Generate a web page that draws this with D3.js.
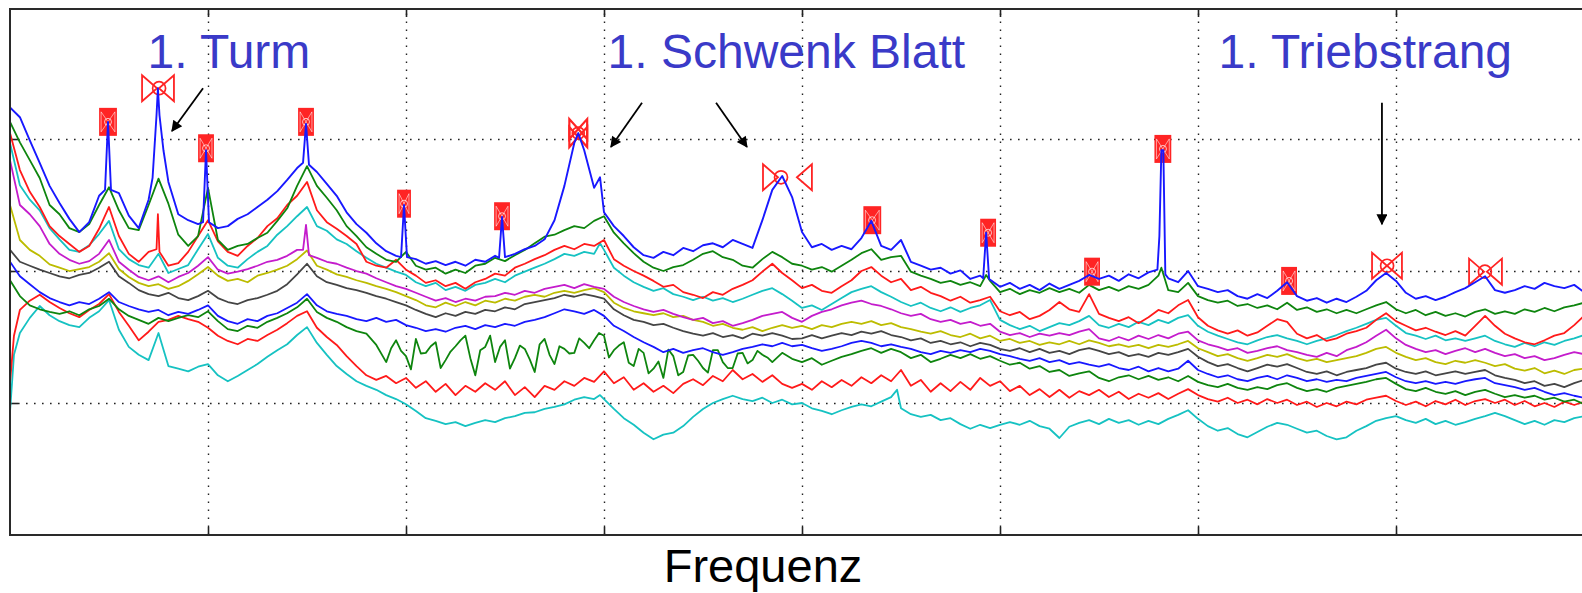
<!DOCTYPE html>
<html><head><meta charset="utf-8">
<script src="https://cdn.jsdelivr.net/npm/d3@7"></script>
<style>body{margin:0;background:#fff}svg{display:block}</style>
</head><body>
<svg id="chart" width="1582" height="593"></svg>
<script>
// ---------- DATA ----------
// frequency axis (arbitrary units, 8 grid intervals), 160 samples per spectrum
const freq = d3.range(160).map(i => i / 20);
const xTicks = [1, 2, 3, 4, 5, 6, 7];
const yTicks = [-80, -60, -40];

// spectra, level in dB
const blue1 = [-35.2,-36.7,-40.2,-43.6,-47.1,-49.7,-52.1,-54.1,-52.6,-48.6,
-47.7,-48.2,-51.6,-53.5,-49.2,-45.0,-46.5,-51.4,-52.3,-52.9,
-52.0,-53.5,-53.2,-52.1,-51.4,-50.3,-49.2,-47.9,-46.2,-44.4,
-43.0,-45.0,-46.8,-48.6,-51.1,-52.9,-54.2,-55.8,-57.0,-57.7,
-57.8,-58.2,-58.9,-58.5,-59.1,-58.6,-59.2,-58.3,-58.6,-57.7,
-57.9,-57.4,-56.7,-56.2,-55.2,-52.3,-47.1,-40.6,-41.7,-47.4,
-51.1,-53.2,-54.7,-56.4,-57.6,-58.0,-57.1,-57.6,-56.5,-57.0,
-56.1,-55.8,-56.4,-55.3,-55.9,-56.5,-52.3,-47.7,-45.6,-48.8,
-54.1,-56.4,-55.9,-56.8,-56.2,-56.7,-55.0,-52.4,-56.2,-56.8,
-55.3,-58.6,-59.2,-59.8,-59.5,-60.4,-59.9,-61.2,-60.7,-61.4,
-62.4,-61.8,-62.7,-62.1,-62.9,-61.9,-62.7,-62.1,-61.5,-60.6,
-61.2,-60.7,-61.5,-60.5,-61.1,-60.2,-59.8,-61.1,-61.7,-60.0,
-62.3,-62.7,-63.2,-62.9,-63.8,-64.2,-63.5,-64.1,-63.0,-61.7,
-63.8,-64.5,-64.1,-64.8,-64.2,-64.7,-63.9,-63.0,-61.4,-60.3,
-61.5,-63.3,-64.2,-63.8,-64.4,-63.9,-63.2,-62.6,-61.7,-60.8,
-62.9,-63.3,-62.9,-62.3,-62.7,-61.8,-62.3,-62.6,-62.1,-63.2];
const blue1Peaks = [[0.48,-47.7],[0.495,-37.4],[0.51,-47.7],
[0.72,-45.9],[0.74,-36.4],[0.747,-32.3],[0.755,-36.4],[0.775,-41.7],
[0.975,-52.6],[0.99,-41.7],[1.005,-52.6],
[1.48,-43.6],[1.495,-37.7],[1.51,-43.9],
[1.975,-57.9],[1.99,-50.0],[2.005,-57.9],
[2.47,-58.0],[2.485,-51.8],[2.5,-57.9],
[2.87,-39.1],[2.98,-45.8],
[4.915,-61.1],[4.93,-54.2],[4.945,-61.2],
[5.795,-59.8],[5.805,-54.7],[5.815,-41.7],[5.825,-41.7],[5.835,-60.5]];

const green1 = [-37.4,-40.5,-43.2,-45.9,-50.0,-51.4,-53.5,-54.1,-52.9,-50.0,
-47.3,-50.8,-53.5,-53.8,-50.0,-46.0,-49.8,-54.5,-56.2,-54.7,
-47.4,-55.3,-56.8,-56.2,-55.9,-55.0,-54.2,-52.4,-50.5,-47.1,
-44.1,-47.1,-48.9,-50.8,-53.2,-54.7,-56.4,-57.4,-58.3,-58.6,
-57.1,-59.2,-59.8,-59.5,-60.4,-59.8,-60.3,-59.2,-58.9,-58.0,
-58.5,-57.6,-56.8,-55.8,-54.8,-54.5,-53.8,-53.2,-53.5,-52.4,
-51.7,-54.2,-55.8,-57.3,-58.6,-59.5,-60.0,-59.4,-59.1,-58.3,
-57.4,-57.0,-57.9,-58.3,-59.2,-59.5,-58.2,-57.1,-57.9,-58.9,
-59.2,-59.8,-59.4,-60.1,-59.2,-58.3,-57.3,-56.7,-58.3,-57.9,
-57.7,-60.1,-60.7,-61.2,-61.8,-61.5,-62.1,-61.7,-62.3,-61.5,
-63.2,-62.7,-63.5,-62.9,-63.3,-62.6,-63.2,-62.7,-63.3,-62.1,
-62.9,-62.4,-63.0,-62.3,-62.7,-62.1,-60.7,-62.9,-63.2,-61.8,
-63.8,-64.4,-64.8,-64.5,-65.3,-65.0,-65.6,-65.2,-65.8,-64.8,
-65.9,-65.5,-66.2,-65.8,-66.4,-65.9,-66.4,-65.8,-65.2,-64.7,
-65.8,-66.4,-65.9,-66.7,-66.2,-66.8,-66.4,-66.9,-66.2,-65.8,
-66.5,-66.1,-66.5,-65.8,-66.2,-65.6,-66.1,-65.5,-65.2,-64.8];
const green1Peaks = [[4.93,-60.6],[5.815,-59.5]];

const red1 = [-39.1,-44.7,-48.0,-50.3,-53.2,-54.7,-55.9,-57.1,-56.2,-53.6,
-50.3,-54.7,-57.4,-58.6,-57.1,-52.6,-59.2,-58.8,-57.1,-54.7,
-52.3,-55.5,-57.1,-57.7,-56.2,-55.0,-53.2,-52.0,-50.0,-48.6,
-46.5,-50.8,-52.6,-53.6,-54.7,-55.9,-58.6,-59.2,-59.5,-58.3,
-59.8,-60.7,-61.8,-61.4,-62.3,-61.8,-62.7,-61.7,-61.2,-60.4,
-60.7,-59.5,-58.9,-58.2,-57.6,-56.8,-56.2,-56.7,-55.9,-56.2,
-55.3,-58.2,-59.2,-60.0,-60.7,-61.5,-62.4,-62.1,-63.2,-63.6,
-64.1,-63.2,-63.6,-62.7,-62.1,-61.4,-60.1,-58.9,-60.3,-61.4,
-62.6,-62.1,-63.0,-63.3,-62.3,-61.4,-60.0,-59.4,-60.7,-61.7,
-61.2,-62.9,-62.4,-63.3,-63.8,-64.5,-63.9,-64.8,-64.4,-63.9,
-66.1,-66.7,-66.2,-67.3,-66.8,-65.9,-64.7,-65.8,-66.2,-63.5,
-66.5,-67.1,-67.6,-67.0,-67.9,-67.0,-65.9,-66.4,-65.2,-64.4,
-67.0,-68.3,-69.0,-69.5,-69.0,-69.8,-69.3,-68.3,-67.3,-67.7,
-69.5,-70.2,-69.7,-70.6,-70.2,-69.5,-69.1,-68.6,-67.4,-66.4,
-67.6,-68.3,-69.0,-68.6,-69.2,-69.7,-69.1,-69.8,-68.3,-66.8,
-68.3,-69.5,-70.2,-70.8,-71.1,-70.5,-69.8,-69.4,-68.2,-66.8];
const red1Peaks = [[0.74,-56.7],[0.747,-51.4],[0.755,-57.1]];

const cyan1 = [-40.6,-47.0,-49.2,-50.8,-53.5,-55.2,-56.8,-57.1,-56.1,-54.4,
-52.4,-56.7,-58.2,-59.1,-59.5,-57.4,-60.3,-59.7,-59.1,-56.7,
-54.4,-58.0,-59.2,-59.5,-58.2,-57.1,-56.2,-54.5,-53.2,-51.7,
-50.3,-53.2,-53.9,-55.2,-55.9,-57.0,-58.0,-58.9,-59.5,-60.1,
-60.6,-61.7,-62.3,-61.8,-62.9,-62.4,-63.0,-62.1,-61.8,-61.2,
-61.7,-60.7,-60.1,-59.5,-58.9,-58.2,-57.4,-57.7,-57.1,-57.4,
-56.8,-59.5,-60.7,-61.7,-62.4,-63.0,-62.6,-63.5,-63.9,-64.4,
-63.9,-64.5,-64.1,-64.7,-64.2,-63.6,-63.0,-62.6,-63.5,-64.5,
-65.6,-65.2,-65.9,-65.0,-64.1,-63.2,-62.7,-62.3,-63.2,-63.9,
-64.7,-65.3,-64.8,-65.6,-66.1,-65.5,-66.2,-65.6,-65.2,-64.4,
-67.4,-68.2,-68.8,-68.3,-69.1,-68.5,-67.9,-68.2,-67.6,-66.8,
-68.2,-68.6,-68.0,-68.5,-67.7,-68.2,-67.4,-67.9,-67.1,-66.7,
-68.3,-69.2,-69.8,-70.3,-70.8,-71.1,-70.5,-70.0,-69.7,-70.2,
-70.6,-71.1,-70.6,-70.2,-69.7,-69.1,-68.6,-68.0,-67.4,-67.1,
-68.3,-69.4,-69.8,-70.3,-69.8,-70.5,-70.2,-70.6,-70.2,-69.8,
-70.6,-71.1,-71.5,-70.9,-71.4,-70.8,-71.2,-70.6,-70.2,-69.7];
const cyan1Peaks = [[2.98,-55.8]];

const magenta1 = [-43.2,-50.0,-51.4,-53.2,-55.9,-57.4,-58.3,-58.9,-58.5,-57.4,
-55.3,-58.6,-59.8,-60.9,-61.4,-60.8,-61.7,-60.9,-60.3,-59.2,
-57.9,-59.8,-60.4,-60.1,-59.7,-59.2,-58.6,-58.3,-57.7,-56.8,
-54.1,-58.0,-58.6,-58.9,-59.5,-60.0,-60.4,-61.1,-61.7,-62.3,
-62.7,-63.3,-63.9,-64.5,-64.1,-64.7,-64.2,-64.5,-63.9,-63.8,
-63.3,-63.6,-63.0,-63.3,-62.7,-62.4,-62.1,-62.6,-62.0,-62.4,
-62.7,-63.9,-64.7,-65.3,-65.8,-66.2,-65.9,-66.5,-67.0,-67.4,
-67.1,-67.9,-67.6,-68.3,-67.9,-67.4,-66.8,-66.5,-66.2,-67.1,
-67.7,-66.8,-66.2,-65.8,-65.2,-64.8,-64.5,-65.0,-65.3,-65.8,
-66.4,-66.8,-66.5,-67.3,-67.7,-67.4,-68.0,-67.7,-68.3,-68.0,
-69.2,-69.7,-69.4,-70.0,-69.5,-69.8,-69.4,-69.7,-69.2,-68.8,
-70.2,-70.6,-70.0,-70.5,-69.8,-70.3,-69.7,-70.2,-69.5,-69.2,
-70.5,-71.1,-71.5,-72.0,-71.7,-72.4,-72.1,-71.7,-71.4,-72.0,
-72.3,-72.7,-73.0,-72.4,-72.9,-72.0,-71.5,-70.8,-69.8,-68.9,
-70.2,-71.2,-71.8,-72.3,-72.0,-72.6,-72.1,-71.7,-72.3,-71.8,
-72.4,-72.9,-72.6,-73.2,-72.9,-73.5,-73.2,-72.7,-72.3,-72.6];
const magenta1Peaks = [[1.48,-56.8],[1.495,-53.0],[1.51,-57.6]];

const yellow1 = [-50.0,-55.3,-56.8,-57.7,-59.0,-59.5,-60.0,-59.7,-59.4,-58.6,
-57.3,-59.7,-60.9,-61.8,-62.3,-62.0,-62.7,-62.3,-61.5,-60.5,
-59.4,-60.7,-61.5,-61.2,-61.7,-60.7,-60.3,-59.8,-59.2,-58.2,
-56.9,-59.2,-59.8,-60.5,-60.9,-61.4,-61.8,-62.3,-62.7,-63.2,
-63.8,-64.4,-65.2,-65.5,-64.8,-65.3,-64.7,-65.2,-64.5,-64.8,
-64.2,-64.5,-63.9,-63.6,-63.9,-63.3,-63.0,-63.3,-62.9,-62.6,
-63.2,-64.8,-65.6,-66.1,-66.4,-66.7,-66.4,-67.0,-66.8,-67.4,
-67.7,-68.3,-68.0,-68.6,-68.9,-68.5,-69.1,-68.6,-68.2,-68.6,
-68.3,-68.8,-68.2,-68.5,-68.0,-67.7,-68.0,-67.6,-68.2,-67.9,
-68.5,-68.8,-69.2,-69.5,-69.1,-69.7,-70.0,-69.5,-70.2,-69.8,
-70.6,-70.3,-70.9,-70.6,-71.2,-70.8,-71.1,-70.6,-71.1,-70.5,
-70.9,-71.4,-71.1,-71.5,-71.2,-71.7,-71.2,-71.5,-71.1,-70.6,
-71.7,-72.3,-72.9,-72.6,-73.2,-73.6,-73.2,-72.7,-73.0,-72.6,
-73.2,-73.6,-73.3,-73.8,-73.5,-73.2,-72.9,-72.4,-71.8,-71.5,
-72.4,-73.0,-73.5,-73.2,-73.8,-74.1,-73.6,-73.9,-73.5,-73.9,
-74.4,-74.1,-74.8,-75.1,-74.7,-75.5,-75.1,-75.6,-75.0,-74.8];

const black1 = [-56.8,-58.6,-59.2,-59.8,-60.3,-60.8,-61.1,-60.6,-60.3,-59.5,
-58.6,-60.8,-61.8,-62.9,-63.5,-63.8,-63.3,-64.1,-64.4,-63.8,
-63.0,-64.1,-64.7,-65.0,-64.4,-64.1,-63.6,-63.0,-62.0,-60.5,
-58.9,-60.8,-61.7,-62.1,-62.6,-62.9,-63.3,-63.8,-64.2,-64.7,
-65.2,-65.9,-66.5,-67.0,-66.4,-66.8,-66.2,-66.5,-65.9,-66.1,
-65.5,-65.8,-65.0,-64.7,-64.4,-64.1,-63.6,-63.9,-63.5,-63.8,
-64.2,-65.8,-66.7,-67.4,-67.7,-68.2,-68.0,-68.6,-69.1,-69.5,
-69.8,-69.4,-70.0,-69.7,-70.2,-69.5,-69.8,-69.4,-69.8,-70.3,
-70.2,-69.7,-70.2,-69.8,-69.4,-69.7,-69.2,-69.5,-69.1,-69.7,
-70.0,-70.5,-70.2,-70.9,-70.6,-71.1,-70.8,-71.4,-70.9,-71.2,
-71.8,-72.1,-71.7,-72.3,-71.8,-72.4,-72.1,-72.6,-72.0,-71.7,
-72.1,-72.6,-72.3,-72.9,-72.6,-73.0,-72.4,-72.7,-72.3,-71.8,
-73.0,-73.8,-74.4,-74.1,-74.7,-75.2,-74.7,-74.2,-74.5,-74.1,
-74.7,-75.3,-75.6,-75.2,-75.8,-75.3,-75.0,-74.7,-74.2,-73.9,
-74.8,-75.3,-75.6,-75.2,-75.8,-75.5,-75.2,-75.6,-75.3,-75.0,
-75.8,-76.2,-76.5,-77.0,-76.7,-77.4,-77.1,-77.6,-77.0,-76.5];

const blue2 = [-58.6,-60.8,-62.0,-63.2,-64.1,-64.7,-65.2,-64.7,-65.0,-64.2,
-63.2,-64.7,-65.3,-65.8,-66.2,-65.9,-66.7,-66.2,-66.5,-65.9,
-65.2,-66.8,-67.6,-68.0,-67.3,-67.6,-66.8,-66.4,-65.6,-64.8,
-63.5,-65.2,-66.1,-66.5,-66.8,-67.3,-67.6,-67.1,-67.7,-67.4,
-68.2,-68.6,-69.1,-68.8,-69.2,-68.6,-68.3,-68.8,-68.2,-68.5,
-68.0,-68.3,-67.7,-67.4,-67.0,-66.4,-65.8,-66.1,-66.5,-65.9,
-66.8,-68.3,-69.1,-70.0,-70.8,-71.5,-72.3,-71.8,-72.4,-72.0,
-71.7,-72.3,-72.7,-72.3,-71.8,-71.5,-71.1,-71.4,-70.9,-71.4,
-71.2,-71.7,-72.1,-71.8,-71.4,-70.9,-70.6,-70.9,-71.4,-71.1,
-71.5,-71.8,-72.3,-72.6,-72.1,-72.4,-72.0,-72.3,-71.8,-72.1,
-72.6,-72.9,-73.3,-73.6,-73.2,-73.8,-73.5,-74.1,-73.8,-74.2,
-74.5,-74.1,-74.7,-75.0,-74.5,-75.2,-74.7,-75.2,-74.8,-73.6,
-75.0,-75.6,-76.1,-75.8,-76.4,-76.7,-76.2,-75.9,-76.4,-75.8,
-76.2,-76.7,-76.4,-76.8,-76.5,-76.7,-76.2,-75.9,-75.6,-75.3,
-76.1,-76.7,-77.0,-76.7,-77.1,-76.8,-77.1,-76.7,-76.4,-76.2,
-77.0,-77.3,-77.6,-78.0,-77.7,-78.3,-78.8,-78.5,-78.9,-79.2];

const green2 = [-61.4,-63.8,-65.2,-65.8,-66.2,-66.5,-66.1,-66.7,-65.8,-65.3,
-64.2,-65.8,-66.8,-67.4,-68.0,-67.1,-67.6,-67.1,-66.7,-67.0,
-66.1,-67.6,-68.8,-69.1,-68.3,-68.6,-67.7,-67.1,-66.4,-65.5,
-64.2,-66.2,-67.1,-67.7,-68.5,-69.1,-69.5,-71.2,-73.8,-70.5,
-72.9,-70.3,-72.4,-70.8,-73.5,-71.4,-69.8,-75.8,-71.5,-73.8,
-70.5,-73.2,-71.8,-75.3,-70.3,-74.1,-71.8,-72.4,-70.9,-70.5,
-69.8,-72.0,-70.8,-74.4,-72.4,-74.8,-76.2,-72.9,-75.3,-72.7,
-74.7,-72.0,-73.8,-74.7,-72.4,-73.5,-72.7,-73.8,-72.4,-73.3,
-73.8,-73.2,-74.2,-73.6,-73.0,-72.6,-72.1,-71.7,-72.4,-71.8,
-72.3,-73.2,-72.7,-73.8,-73.3,-72.7,-73.2,-72.6,-73.3,-72.9,
-73.6,-74.2,-73.9,-74.8,-74.4,-75.3,-75.0,-75.9,-75.5,-75.2,
-76.2,-76.7,-76.1,-75.8,-76.4,-75.9,-76.5,-76.1,-76.7,-75.9,
-76.8,-77.3,-77.6,-77.1,-77.7,-78.0,-77.6,-77.9,-77.3,-77.0,
-77.7,-78.2,-77.9,-78.3,-77.7,-77.4,-77.1,-76.8,-76.4,-76.2,
-77.1,-77.9,-78.2,-77.7,-78.3,-78.6,-78.2,-78.8,-78.3,-78.0,
-78.6,-79.1,-78.8,-79.2,-78.9,-79.5,-79.2,-79.8,-79.5,-80.2];
const green2Extra = [[1.925,-71.7],[1.975,-72.1],[2.025,-74.9],[2.075,-72.5],[2.125,-71.4],
[2.175,-74.7],[2.225,-72.2],[2.275,-70.5],[2.325,-73.2],[2.375,-72.0],[2.425,-69.8],
[2.475,-71.5],[2.525,-74.8],[2.575,-71.3],[2.625,-73.4],[2.675,-71.1],[2.725,-72.7],
[2.775,-71.4],[2.825,-72.5],[2.875,-70.2],[2.925,-71.7],[2.975,-69.4],[3.025,-73.1],
[3.075,-71.3],[3.125,-73.9],[3.175,-71.8],[3.225,-75.5],[3.275,-73.7],[3.325,-71.9],
[3.375,-75.8],[3.425,-72.8],[3.475,-73.6],[3.525,-75.4],[3.575,-72.0],[3.625,-74.7],
[3.675,-72.5],[3.725,-74.0],[3.775,-72.1],[3.825,-73.1]];

const red2 = [-77.0,-65.9,-64.5,-63.6,-64.7,-65.6,-66.4,-67.0,-65.9,-65.0,
-63.5,-66.2,-68.3,-70.5,-69.2,-67.7,-67.4,-66.8,-67.3,-67.7,
-68.6,-69.8,-70.6,-71.1,-70.3,-70.6,-69.7,-68.9,-67.9,-66.8,
-66.1,-68.6,-70.0,-71.2,-72.9,-74.4,-75.8,-76.5,-75.9,-77.0,
-76.2,-77.7,-76.7,-78.3,-77.1,-78.8,-77.4,-78.3,-77.0,-78.0,
-76.7,-78.8,-77.6,-79.1,-77.4,-78.0,-76.7,-77.4,-76.2,-76.8,
-75.2,-77.0,-76.1,-78.0,-77.0,-78.3,-77.4,-78.5,-77.1,-76.4,
-77.3,-75.9,-76.7,-75.0,-76.4,-75.6,-76.8,-75.8,-77.1,-77.7,
-77.1,-78.0,-76.7,-77.6,-76.5,-77.4,-76.1,-77.0,-75.8,-76.7,
-75.0,-77.4,-76.5,-78.3,-77.0,-78.2,-76.8,-78.0,-76.2,-77.4,
-76.7,-78.2,-77.4,-78.8,-77.9,-79.1,-78.0,-79.2,-78.2,-78.8,
-78.0,-79.1,-78.3,-79.4,-78.6,-79.2,-78.5,-79.4,-78.6,-77.9,
-78.8,-79.4,-79.8,-79.2,-80.0,-79.5,-80.2,-79.4,-80.0,-79.5,
-80.3,-79.8,-80.6,-80.0,-80.5,-79.8,-80.2,-79.5,-79.2,-78.9,
-79.7,-80.3,-79.8,-80.5,-79.7,-80.2,-79.5,-80.3,-79.7,-79.4,
-80.0,-79.5,-80.3,-79.7,-80.5,-80.0,-80.6,-79.8,-80.3,-79.8];
const red2Extra = [[0.02,-69.8]];

const cyan2 = [-81.4,-69.4,-67.1,-65.3,-66.7,-67.6,-68.2,-68.5,-67.1,-66.1,
-64.4,-68.9,-71.5,-72.7,-73.5,-69.4,-74.4,-74.8,-75.2,-74.5,
-74.1,-75.8,-76.7,-75.9,-75.0,-74.1,-73.0,-72.0,-71.1,-69.7,
-68.5,-70.9,-72.7,-74.4,-75.6,-76.7,-77.4,-78.0,-78.8,-79.4,
-80.2,-81.2,-82.3,-82.7,-83.2,-82.9,-83.5,-83.0,-82.6,-82.9,
-82.3,-82.0,-81.5,-81.4,-80.9,-80.6,-80.2,-79.5,-79.1,-79.4,
-79.4,-80.9,-82.3,-83.3,-84.5,-85.5,-84.8,-84.5,-83.5,-82.1,
-80.9,-80.0,-79.4,-78.9,-79.4,-79.7,-79.2,-80.0,-79.5,-80.2,
-80.0,-80.8,-81.2,-81.7,-81.1,-80.6,-80.2,-80.5,-79.8,-79.1,
-80.8,-81.7,-82.1,-81.8,-82.6,-82.3,-83.2,-83.9,-83.3,-83.8,
-83.3,-82.9,-83.3,-82.7,-83.5,-83.9,-85.3,-83.6,-83.0,-82.6,
-83.2,-82.4,-83.0,-82.6,-83.3,-82.7,-83.2,-82.4,-81.8,-81.1,
-82.4,-83.5,-84.2,-83.8,-84.7,-85.2,-84.4,-83.6,-83.0,-83.3,
-83.9,-84.5,-84.2,-85.0,-85.5,-85.2,-84.2,-83.5,-82.7,-82.3,
-82.0,-82.6,-83.0,-82.4,-83.2,-82.7,-83.3,-82.9,-82.4,-82.0,
-81.5,-82.0,-82.6,-83.2,-82.7,-83.3,-82.6,-82.9,-82.3,-82.0];
const cyan2Extra = [[0.02,-72.7],[2.98,-78.8],[4.48,-78.0]];

// peak picking markers (frequency, level, lower / upper band edge, style)
const markerFreq  = [0.495,0.753,0.99,1.495,1.99,2.485,2.87,3.894,4.354,4.94,5.465,5.823,6.46,6.955,7.449];
const markerLevel = [-37.4,-32.3,-41.4,-37.4,-49.8,-51.7,-39.1,-45.8,-52.3,-54.2,-60.1,-41.5,-61.5,-59.2,-60.1];
const markerLo    = [0.45,0.667,0.95,1.455,1.955,2.445,2.825,3.803,4.31,4.9,5.425,5.78,6.42,6.879,7.369];
const markerHi    = [0.54,0.828,1.03,1.535,2.025,2.525,2.915,4.05,4.40,4.98,5.505,5.865,6.50,7.03,7.535];
const markerKind  = ["dense","open","dense","dense","dense","dense","half","open","dense","dense","dense","dense","dense","open","open"];

// annotations
const labelText  = ["1. Turm", "1. Schwenk Blatt", "1. Triebstrang"];
const labelFreq  = [0.695, 3.018, 6.104];
const labelLevel = [-29.2, -29.2, -29.2];
const arrowFrom  = [[0.975,-32.3],[3.192,-34.5],[3.566,-34.5],[6.929,-34.5]];
const arrowTo    = [[0.818,-38.8],[3.035,-41.2],[3.722,-41.2],[6.929,-52.9]];
const xLabel = "Frequenz";

// ---------- CHART ----------
const svg = d3.select("#chart");
const x = d3.scaleLinear().domain([0, 8]).range([10, 1594]);
const y = d3.scaleLinear().domain([-100, -20.3]).range([535, 9]);
const font = "'Liberation Sans', Arial, Helvetica, sans-serif";

svg.append("defs").append("clipPath").attr("id", "plot")
  .append("rect").attr("x", x(0)).attr("y", y(-20.3)).attr("width", x(8) - x(0)).attr("height", y(-100) - y(-20.3));

// dotted grid
const grid = svg.append("g");
grid.append("g").attr("transform", `translate(0,${y(-100)})`)
  .call(d3.axisBottom(x).tickValues(xTicks).tickSize(-(y(-100) - y(-20.3))).tickFormat(""))
  .call(g => g.select(".domain").remove());
grid.append("g").attr("transform", `translate(${x(0)},0)`)
  .call(d3.axisLeft(y).tickValues(yTicks).tickSize(-(x(8) - x(0))).tickFormat(""))
  .call(g => g.select(".domain").remove());
grid.selectAll("line").attr("stroke", "#222").attr("stroke-width", 1.4).attr("stroke-dasharray", "1.6,6.4");

// solid tick marks
const ticks = svg.append("g");
ticks.append("g").attr("transform", `translate(0,${y(-20.3)})`)
  .call(d3.axisBottom(x).tickValues(xTicks).tickSize(8).tickFormat(""));
ticks.append("g").attr("transform", `translate(0,${y(-100)})`)
  .call(d3.axisTop(x).tickValues(xTicks).tickSize(8).tickFormat(""));
ticks.append("g").attr("transform", `translate(${x(0)},0)`)
  .call(d3.axisRight(y).tickValues(yTicks).tickSize(8).tickFormat(""));
ticks.selectAll(".domain").remove();
ticks.selectAll("line").attr("stroke", "#222").attr("stroke-width", 1.6);

// spectra
function build(values, extra) {
  const ex = extra || [];
  const base = values.map((v, i) => [freq[i], v])
    .filter(p => !ex.some(e => Math.abs(e[0] - p[0]) < 0.012));
  return base.concat(ex).sort((a, b) => a[0] - b[0]);
}
const series = [
  {v: blue1,    e: blue1Peaks,    c: "#1818ff"},
  {v: green1,   e: green1Peaks,   c: "#0e850e"},
  {v: red1,     e: red1Peaks,     c: "#ff1a1a"},
  {v: cyan1,    e: cyan1Peaks,    c: "#16c2c2"},
  {v: magenta1, e: magenta1Peaks, c: "#c41ccc"},
  {v: yellow1,  e: [],            c: "#bcbc00"},
  {v: black1,   e: [],            c: "#454545"},
  {v: blue2,    e: [],            c: "#1818ff"},
  {v: green2,   e: green2Extra,   c: "#0e850e"},
  {v: red2,     e: red2Extra,     c: "#ff1a1a"},
  {v: cyan2,    e: cyan2Extra,    c: "#16c2c2"}
];
const line = d3.line().x(d => x(d[0])).y(d => y(d[1]));
const plot = svg.append("g").attr("clip-path", "url(#plot)");
const lowerLines = plot.append("g");
const markG = plot.append("g");
const topLine = plot.append("g");

series.slice(1).reverse().forEach(s => {
  lowerLines.append("path").attr("d", line(build(s.v, s.e)))
    .attr("fill", "none").attr("stroke", s.c).attr("stroke-width", 1.8).attr("stroke-linejoin", "round");
});

// markers
const markers = markerFreq.map((f, i) => ({f, v: markerLevel[i], lo: markerLo[i], hi: markerHi[i], k: markerKind[i]}));
function bowtie(xl, xh, cy, h) {
  const tw = Math.min(15, (xh - xl) / 2);
  return `M${xl},${cy - h}L${xl},${cy + h}L${xl + tw},${cy}Z M${xh},${cy - h}L${xh},${cy + h}L${xh - tw},${cy}Z`;
}
markers.forEach(m => {
  const cx = x(m.f), cy = y(m.v), xl = x(m.lo), xh = x(m.hi);
  if (m.k === "dense") {
    markG.append("rect").attr("x", xl).attr("y", cy - 14).attr("width", xh - xl).attr("height", 28)
      .attr("fill", "#ff2424");
    markG.append("path").attr("d", bowtie(xl + 2, xh - 2, cy, 10))
      .attr("fill", "none").attr("stroke", "#fff").attr("stroke-opacity", 0.55).attr("stroke-width", 1);
    markG.append("circle").attr("cx", cx).attr("cy", cy).attr("r", 3.5)
      .attr("fill", "none").attr("stroke", "#fff").attr("stroke-opacity", 0.7).attr("stroke-width", 1);
  } else if (m.k === "half") {
    [-4, 4].forEach(o => markG.append("path").attr("d", bowtie(xl, xh, cy + o, 10))
      .attr("fill", "none").attr("stroke", "#ff2424").attr("stroke-width", 2.2));
    markG.append("circle").attr("cx", cx).attr("cy", cy).attr("r", 6)
      .attr("fill", "none").attr("stroke", "#ff2424").attr("stroke-width", 1.6);
  } else {
    markG.append("path").attr("d", bowtie(xl, xh, cy, 13))
      .attr("fill", "none").attr("stroke", "#ff2424").attr("stroke-width", 1.8);
    markG.append("circle").attr("cx", cx).attr("cy", cy).attr("r", 6.5)
      .attr("fill", "none").attr("stroke", "#ff2424").attr("stroke-width", 1.7);
  }
});

topLine.append("path").attr("d", line(build(series[0].v, series[0].e)))
  .attr("fill", "none").attr("stroke", series[0].c).attr("stroke-width", 1.9).attr("stroke-linejoin", "round");

// frame
const frame = svg.append("g").attr("stroke", "#2a2a2a").attr("stroke-width", 2).attr("fill", "none");
frame.append("rect").attr("x", x(0)).attr("y", y(-20.3)).attr("width", x(8) - x(0)).attr("height", y(-100) - y(-20.3));

// annotation text + arrows
svg.append("defs").append("marker").attr("id", "ah").attr("viewBox", "0 0 10 10")
  .attr("refX", 9).attr("refY", 5).attr("markerWidth", 15).attr("markerHeight", 11)
  .attr("markerUnits", "userSpaceOnUse").attr("orient", "auto")
  .append("path").attr("d", "M0,0L10,5L0,10Z").attr("fill", "#000");
arrowFrom.forEach((a, i) => {
  svg.append("line").attr("x1", x(a[0])).attr("y1", y(a[1]))
    .attr("x2", x(arrowTo[i][0])).attr("y2", y(arrowTo[i][1]))
    .attr("stroke", "#000").attr("stroke-width", 1.8).attr("marker-end", "url(#ah)");
});
labelText.forEach((t, i) => {
  svg.append("text").attr("x", x(labelFreq[i])).attr("y", y(labelLevel[i]))
    .attr("font-family", font).attr("font-size", 48).attr("fill", "#3a3ac8").text(t);
});
svg.append("text").attr("x", 763).attr("y", 582).attr("text-anchor", "middle")
  .attr("font-family", font).attr("font-size", 47).attr("fill", "#000").text(xLabel);
</script>
</body></html>
